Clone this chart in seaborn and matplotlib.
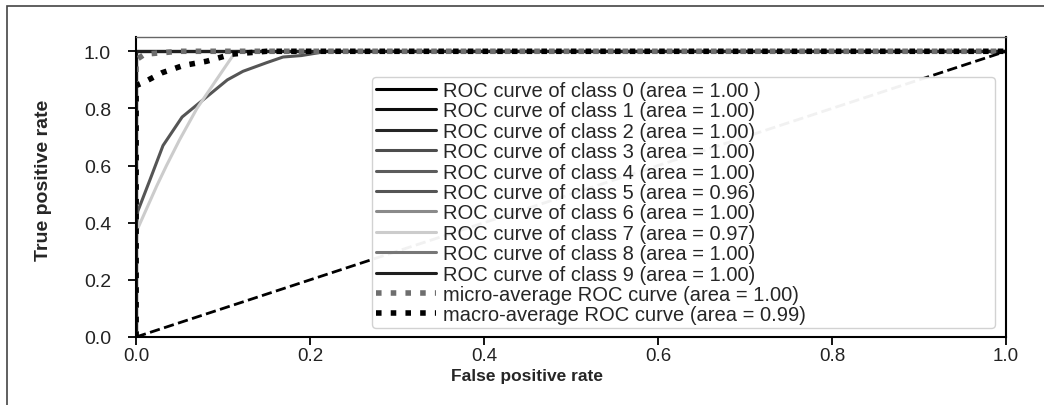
import matplotlib
matplotlib.use("Agg")
import matplotlib.pyplot as plt
import seaborn as sns
from matplotlib.patches import Rectangle

# per-class ROC curves (fpr, tpr)
class_names = ["0", "1", "2", "3", "4", "5", "6", "7", "8", "9"]
class_areas = ["1.00 ", "1.00", "1.00", "1.00", "1.00", "0.96", "1.00", "0.97", "1.00", "1.00"]
class_colors = ["#000000", "#0d0d0d", "#262626", "#4d4d4d", "#5c5c5c",
                "#555555", "#8a8a8a", "#cccccc", "#777777", "#1f1f1f"]

perfect_fpr = [0.0, 0.0, 1.0]
perfect_tpr = [0.0, 1.0, 1.0]

class5_fpr = [0.0, 0.0, 0.002, 0.016, 0.031, 0.053, 0.081, 0.105, 0.123, 0.15, 0.169, 0.19, 0.22, 1.0]
class5_tpr = [0.0, 0.38, 0.44, 0.55, 0.67, 0.77, 0.84, 0.90, 0.93, 0.96, 0.98, 0.985, 1.0, 1.0]

class7_fpr = [0.0, 0.0, 0.002, 0.024, 0.035, 0.05, 0.07, 0.089, 0.108, 0.115, 1.0]
class7_tpr = [0.0, 0.33, 0.38, 0.53, 0.60, 0.69, 0.80, 0.885, 0.97, 1.0, 1.0]

micro_fpr = [0.0, 0.0, 0.01, 0.05, 1.0]
micro_tpr = [0.0, 0.97, 0.99, 1.0, 1.0]
micro_area = "1.00"

macro_fpr = [0.0, 0.0, 0.008, 0.03, 0.054, 0.081, 0.11, 0.15, 1.0]
macro_tpr = [0.0, 0.88, 0.89, 0.925, 0.95, 0.965, 0.99, 1.0, 1.0]
macro_area = "0.99"

chance_fpr = [0.0, 1.0]
chance_tpr = [0.0, 1.0]


def plot_roc():
    sns.set_style("ticks")
    plt.rcParams["font.family"] = ["Liberation Sans", "DejaVu Sans"]

    fig = plt.figure(figsize=(10.44, 4.06), dpi=100)
    ax = fig.add_axes([0.1303, 0.1675, 0.8333, 0.7389])

    curves = {"5": (class5_fpr, class5_tpr), "7": (class7_fpr, class7_tpr)}
    for name, area, color in zip(class_names, class_areas, class_colors):
        fpr, tpr = curves.get(name, (perfect_fpr, perfect_tpr))
        sns.lineplot(x=fpr, y=tpr, estimator=None, sort=False, color=color, lw=2.2,
                     label="ROC curve of class %s (area = %s)" % (name, area), ax=ax)

    sns.lineplot(x=micro_fpr, y=micro_tpr, estimator=None, sort=False, color="#6e6e6e",
                 lw=4, linestyle=":",
                 label="micro-average ROC curve (area = %s)" % micro_area, ax=ax)
    sns.lineplot(x=macro_fpr, y=macro_tpr, estimator=None, sort=False, color="black",
                 lw=4, linestyle=":",
                 label="macro-average ROC curve (area = %s)" % macro_area, ax=ax)
    sns.lineplot(x=chance_fpr, y=chance_tpr, estimator=None, sort=False, color="black",
                 lw=2, linestyle="--", ax=ax)

    ax.set_xlim(0.0, 1.0)
    ax.set_ylim(0.0, 1.05)
    ax.set_xticks([0.0, 0.2, 0.4, 0.6, 0.8, 1.0])
    ax.set_yticks([0.0, 0.2, 0.4, 0.6, 0.8, 1.0])
    ax.tick_params(axis="both", length=6, width=1.3, colors="black", labelcolor="#222222")
    ax.tick_params(axis="x", labelsize=13.5, pad=1.5)
    ax.tick_params(axis="y", labelsize=14, pad=12)
    ax.set_xlabel("False positive rate", fontsize=12.5, fontweight="bold")
    ax.set_ylabel("True positive rate", fontsize=14, fontweight="bold")
    ax.xaxis.set_label_coords(0.449, -0.105)
    ax.yaxis.set_label_coords(-0.097, 0.527)

    for side in ["left", "bottom", "right"]:
        ax.spines[side].set_color("black")
        ax.spines[side].set_linewidth(1.5)
    ax.spines["top"].set_color("#666666")
    ax.spines["top"].set_linewidth(1.0)

    leg = ax.legend(loc="upper left", bbox_to_anchor=(0.271, 0.027, 0.716, 0.84),
                    mode="expand", borderaxespad=0, fontsize=14.5, labelspacing=0.07,
                    handlelength=3.0, handletextpad=0.35, borderpad=0.2,
                    framealpha=0.95, fancybox=True)
    leg.get_frame().set_edgecolor("#d0d0d0")

    # outer frame of the figure (left and top edges visible)
    fig.patches.append(Rectangle((7 / 1044, -0.5), 2.0, 0.983 + 0.5,
                                 transform=fig.transFigure, fill=False,
                                 edgecolor="#444444", lw=1.2))

    fig.savefig("out.png", dpi=100)


def main():
    return plot_roc()


if __name__ == "__main__":
    main()
